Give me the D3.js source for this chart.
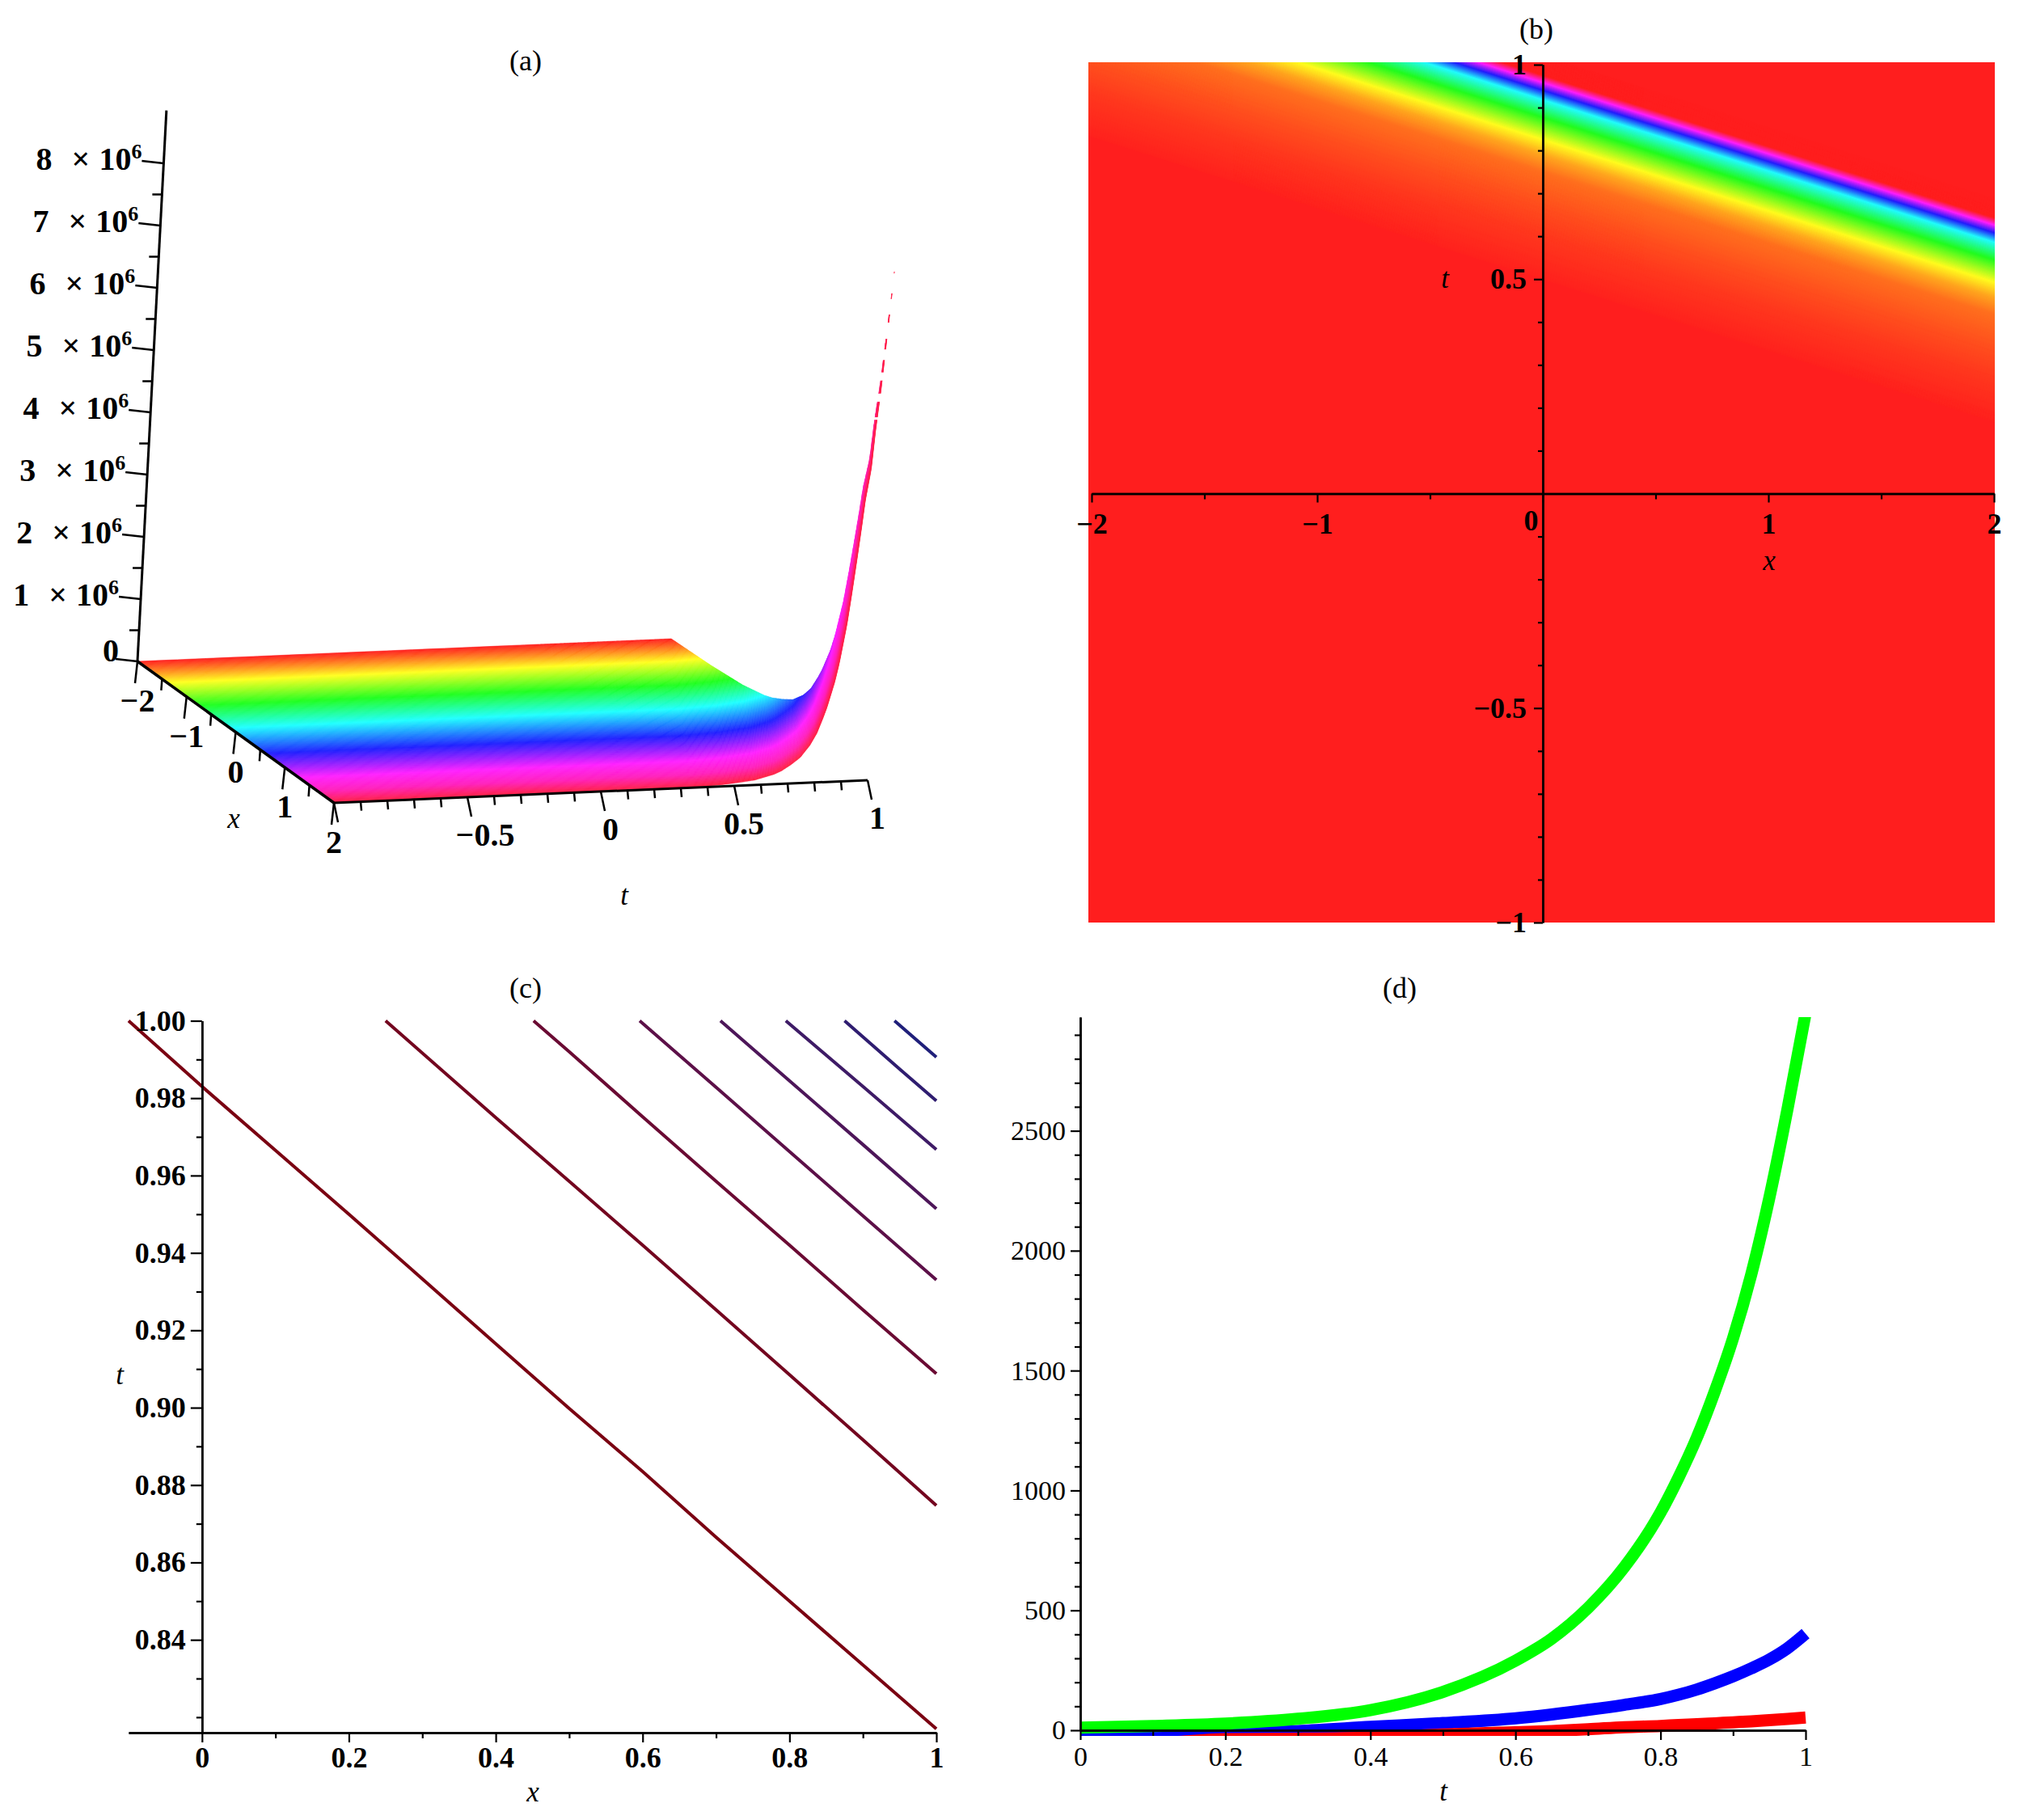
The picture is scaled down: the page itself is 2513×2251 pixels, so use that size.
<!DOCTYPE html>
<html>
<head>
<meta charset="utf-8">
<script src="https://cdn.jsdelivr.net/npm/d3@7"></script>
<style>
  body { margin: 0; background: #fff; }
  text { font-family: "Liberation Serif", serif; fill: #000; }
  .tick text { font-family: "Liberation Serif", serif; font-size: 36px; font-weight: bold; fill: #000; }
  .thin .tick text { font-size: 34px; font-weight: normal; }
  .tick line { stroke: #000; stroke-width: 2.2; }
  .domain { stroke: #000; stroke-width: 2.5; }
  .title { font-size: 36px; text-anchor: middle; }
  .varname { font-size: 35px; font-style: italic; text-anchor: middle; }
  .lab3d { font-size: 40px; font-weight: bold; text-anchor: middle; }
</style>
</head>
<body>
<div id="chart"></div>
<script>
// Panel (a) surface: height along the wave coordinate s = t + isoSlope * x
var isoSlope = 0.166;
var surfaceS = [-1.4, 0.668, 0.8, 0.908, 0.98, 1.007, 1.04, 1.074, 1.108, 1.132, 1.153, 1.165, 1.189, 1.202, 1.223, 1.235, 1.247, 1.259, 1.268, 1.284, 1.293, 1.306, 1.316, 1.327, 1.332];
var surfaceZ = [0, 0, 30000, 80000, 160000, 210000, 300000, 410000, 600000, 790000, 1040000, 1200000, 1600000, 1890000, 2500000, 2980000, 3500000, 4050000, 4500000, 5000000, 5640000, 6310000, 7010000, 7770000, 8170000];
var surfaceHueX = [-2, -1.4, -0.76, -0.12, 0.6, 1.28, 1.65, 2];
var surfaceHue = [0, 60, 120, 180, 240, 300, 318, 352];
// the thin top of the ridge breaks into dashes in the picture
var ridgeGapFrom = [8.14e6, 7.73e6, 7.35e6, 6.92e6, 6.55e6, 6.21e6, 5.83e6];
var ridgeGapTo = [7.82e6, 7.48e6, 7.09e6, 6.75e6, 6.42e6, 6.08e6, 5.79e6];
var zTicks = [1e6, 2e6, 3e6, 4e6, 5e6, 6e6, 7e6, 8e6];
var zMinorTicks = [0.5e6, 1.5e6, 2.5e6, 3.5e6, 4.5e6, 5.5e6, 6.5e6, 7.5e6];
var aXTicks = [-2, -1, 0, 1, 2];
var aXMinor = [-1.5, -0.5, 0.5, 1.5];
var aTTicks = [-1, -0.5, 0, 0.5, 1];
var aTMinor = [-0.9, -0.8, -0.7, -0.6, -0.4, -0.3, -0.2, -0.1, 0.1, 0.2, 0.3, 0.4, 0.6, 0.7, 0.8, 0.9];

// Panel (b) density: hue along the same wave coordinate
var heatS = [0.5, 0.6, 0.668, 0.75, 0.79, 0.825, 0.877, 0.918, 0.94, 0.958, 0.975, 1.4];
var heatHue = [1, 7, 13, 22, 37, 60, 120, 180, 240, 300, 360, 360];
var bXTicks = [-2, -1, 0, 1, 2];
var bXMinor = [-1.5, -0.5, 0.5, 1.5];
var bTTicks = [-1, -0.5, 0.5, 1];
var bTMinor = [-0.9, -0.8, -0.7, -0.6, -0.4, -0.3, -0.2, -0.1, 0.1, 0.2, 0.3, 0.4, 0.6, 0.7, 0.8, 0.9];

// Panel (c) contour lines
var contourX = [
  [-0.1, 0, 0.1, 0.2, 0.3, 0.4, 0.5, 0.6, 0.7, 0.8, 0.9, 1],
  [0.25, 0.4, 0.5, 0.6, 0.7, 0.8, 0.9, 1],
  [0.4515, 0.5, 0.6, 0.7, 0.8, 0.9, 1],
  [0.596, 0.7, 0.8, 0.9, 1],
  [0.706, 0.8, 0.9, 1],
  [0.795, 0.9, 1],
  [0.875, 0.95, 1],
  [0.943, 1]
];
var contourT = [
  [1, 0.983, 0.9665, 0.95, 0.9333, 0.9165, 0.8998, 0.8835, 0.8665, 0.85, 0.8335, 0.817],
  [1, 0.975, 0.9585, 0.942, 0.9253, 0.9085, 0.8917, 0.8747],
  [1, 0.992, 0.9752, 0.9585, 0.942, 0.9253, 0.9088],
  [1, 0.9828, 0.9662, 0.9496, 0.933],
  [1, 0.9845, 0.968, 0.9514],
  [1, 0.983, 0.9667],
  [1, 0.9875, 0.9793],
  [1, 0.9906]
];
var contourColors = ["#7a0012", "#73041f", "#6a0a33", "#5c1048", "#4d1659", "#3e1b66", "#2f1d70", "#1f1f7a"];
var cXTicks = [0, 0.2, 0.4, 0.6, 0.8, 1];
var cXMinor = [0.1, 0.3, 0.5, 0.7, 0.9];
var cTTicks = [0.84, 0.86, 0.88, 0.90, 0.92, 0.94, 0.96, 0.98, 1.00];
var cTMinor = [0.82, 0.83, 0.85, 0.87, 0.89, 0.91, 0.93, 0.95, 0.97, 0.99];

// Panel (d) curves
var curveT = [0, 0.1, 0.2, 0.3, 0.4, 0.5, 0.6, 0.65, 0.7, 0.75, 0.8, 0.825, 0.85, 0.875, 0.9, 0.925, 0.95, 0.975, 1];
var greenU = [11, 18, 28, 48, 84, 160, 290, 382, 510, 680, 908, 1055, 1220, 1415, 1635, 1900, 2220, 2590, 2990];
var blueU = [-5, -5, -8, -3, 14, 30, 50, 66, 85, 106, 130, 148, 170, 196, 225, 258, 295, 342, 403];
var redU = [-60, -55, -37, -35, -30, -18, -8, -3, 4, 13, 18, 22, 25, 29, 33, 37, 42, 47, 53];
var dXTicks = [0, 0.2, 0.4, 0.6, 0.8, 1];
var dXMinor = [0.1, 0.3, 0.5, 0.7, 0.9];
var dUTicks = [0, 500, 1000, 1500, 2000, 2500];
var dUMinor = d3.range(100, 3000, 100).filter(function(d) { return d % 500 !== 0; });

var svg = d3.select("#chart").append("svg")
  .attr("width", 2513)
  .attr("height", 2251);

function minusFormat(d) {
  return d3.format("")(d).replace("-", "\u2212");
}

function hueColor(h) {
  return d3.hsl(h, 1, 0.559).formatHex();
}

// ---------- panel (a) ----------
var groupA = svg.append("g");
groupA.append("text").attr("class", "title").attr("x", 650).attr("y", 87).text("(a)");

// fixed oblique view: each data axis contributes its own screen offset
var xToPx = d3.scaleLinear().domain([-2, 2]).range([0, 243]);
var xToPy = d3.scaleLinear().domain([-2, 2]).range([0, 175]);
var tToPx = d3.scaleLinear().domain([-1, 1]).range([0, 660]);
var tToPy = d3.scaleLinear().domain([-1, 1]).range([0, -28]);
var zToPx = d3.scaleLinear().domain([0, 8e6]).range([0, 32.4]);
var zToPy = d3.scaleLinear().domain([0, 8e6]).range([0, -616]);

function project(x, t, z) {
  return [170 + xToPx(x) + tToPx(t) + zToPx(z), 818 + xToPy(x) + tToPy(t) + zToPy(z)];
}

var surfaceHeight = d3.scaleLinear().domain(surfaceS).range(surfaceZ);
var surfaceColor = d3.scaleLinear().domain(surfaceHueX).range(surfaceHue);

var tSteps = d3.range(-1, 0.5, 0.05).concat(d3.range(0.5, 1.0001, 0.004));
var xSlices = d3.range(-2, 2, 0.02);
var ribbon = d3.line();

xSlices.forEach(function(x0) {
  var x1 = x0 + 0.02;
  var front = tSteps.map(function(t) { return project(x1, t, surfaceHeight(t + isoSlope * x1)); });
  var back = tSteps.slice().reverse().map(function(t) { return project(x0, t, surfaceHeight(t + isoSlope * x0)); });
  var c = hueColor(surfaceColor(x0));
  groupA.append("path")
    .attr("d", ribbon(front.concat(back)) + "Z")
    .attr("fill", c)
    .attr("stroke", c)
    .attr("stroke-width", 0.6);
});

ridgeGapFrom.forEach(function(z, i) {
  var top = project(2, 1, z)[1];
  var bottom = project(2, 1, ridgeGapTo[i])[1];
  groupA.append("rect")
    .attr("x", 1050).attr("y", top)
    .attr("width", 80).attr("height", bottom - top)
    .attr("fill", "#fff");
});

function line3d(p, q, w) {
  groupA.append("line")
    .attr("x1", p[0]).attr("y1", p[1])
    .attr("x2", q[0]).attr("y2", q[1])
    .attr("stroke", "#000")
    .attr("stroke-width", w);
}

// axes of the box
line3d(project(-2, -1, 0), project(-2, -1, 8.85e6), 3);
line3d(project(-2, -1, 0), project(2, -1, 0), 3.5);
line3d(project(2, -1, 0), project(2, 1, 0), 3);

[0].concat(zTicks).forEach(function(z) {
  var p = project(-2, -1, z);
  line3d(p, [p[0] - 27, p[1] - 3], 2.5);
});
zMinorTicks.forEach(function(z) {
  var p = project(-2, -1, z);
  line3d(p, [p[0] - 12, p[1]], 2.5);
});
aXTicks.forEach(function(x) {
  var p = project(x, -1, 0);
  line3d(p, [p[0] - 3, p[1] + 27], 2.5);
  groupA.append("text").attr("class", "lab3d")
    .attr("x", p[0]).attr("y", p[1] + 62).text(minusFormat(x));
});
aXMinor.forEach(function(x) {
  var p = project(x, -1, 0);
  line3d(p, [p[0] - 1, p[1] + 14], 2.5);
});
aTTicks.forEach(function(t) {
  var p = project(2, t, 0);
  line3d(p, [p[0] + 5, p[1] + 24], 2.5);
  if (t !== -1) {
    groupA.append("text").attr("class", "lab3d")
      .attr("x", p[0] + (t === -0.5 ? 22 : 12)).attr("y", p[1] + 60).text(minusFormat(t));
  }
});
aTMinor.forEach(function(t) {
  var p = project(2, t, 0);
  line3d(p, [p[0] + 1, p[1] + 11], 2.5);
});

// z tick labels
groupA.append("text").attr("class", "lab3d")
  .attr("x", 137).attr("y", 818).text("0");
zTicks.forEach(function(z) {
  var p = project(-2, -1, z);
  var lab = groupA.append("text").attr("class", "lab3d")
    .attr("x", p[0] - 27).attr("y", p[1] + 8)
    .style("text-anchor", "end");
  lab.append("tspan").text(z / 1e6);
  lab.append("tspan").attr("dx", 24).text("\u00d7");
  lab.append("tspan").attr("dx", 11).text("10");
  lab.append("tspan").attr("dy", -14).style("font-size", "26px").text("6");
});
groupA.append("text").attr("class", "varname").attr("x", 289).attr("y", 1024).text("x");
groupA.append("text").attr("class", "varname").attr("x", 772).attr("y", 1119).text("t");

// ---------- panel (b) ----------
var groupB = svg.append("g");
groupB.append("text").attr("class", "title").attr("x", 1900).attr("y", 48).text("(b)");

var bx = d3.scaleLinear().domain([-2, 2]).range([1350, 2466]);
var bt = d3.scaleLinear().domain([-1, 1]).range([1141, 80]);
var heatColor = d3.scaleLinear().domain(heatS).range(heatHue);

svg.append("clipPath").attr("id", "clipB").append("rect")
  .attr("x", 1346).attr("y", 77).attr("width", 1121).attr("height", 1064);

var heatLayer = groupB.append("g").attr("clip-path", "url(#clipB)");
heatLayer.append("rect")
  .attr("x", 1346).attr("y", 77).attr("width", 1121).attr("height", 1064)
  .attr("fill", hueColor(0));

d3.range(0.5, 1.02, 0.002).forEach(function(s) {
  var s1 = s + 0.002;
  var c = hueColor(heatColor(s));
  var pts = [
    [bx(-2.1), bt(s + isoSlope * 2.1)],
    [bx(2.1), bt(s - isoSlope * 2.1)],
    [bx(2.1), bt(s1 - isoSlope * 2.1)],
    [bx(-2.1), bt(s1 + isoSlope * 2.1)]
  ];
  heatLayer.append("path")
    .attr("d", d3.line()(pts) + "Z")
    .attr("fill", c)
    .attr("stroke", c)
    .attr("stroke-width", 0.8);
});

var bAxisX = groupB.append("g").attr("transform", "translate(0," + bt(0) + ")");
bAxisX.call(d3.axisBottom(bx).tickValues(bXMinor).tickSize(7).tickFormat("").tickSizeOuter(0));
var bAxisXMain = groupB.append("g").attr("transform", "translate(0," + bt(0) + ")");
bAxisXMain.call(d3.axisBottom(bx).tickValues(bXTicks).tickSize(11).tickPadding(13).tickFormat(minusFormat).tickSizeOuter(0));
bAxisXMain.selectAll(".tick text").filter(function(d) { return d === 0; }).attr("x", -15).attr("y", 20);

var bAxisT = groupB.append("g").attr("transform", "translate(" + bx(0) + ",0)");
bAxisT.call(d3.axisLeft(bt).tickValues(bTMinor).tickSize(6).tickFormat("").tickSizeOuter(0));
var bAxisTMain = groupB.append("g").attr("transform", "translate(" + bx(0) + ",0)");
bAxisTMain.call(d3.axisLeft(bt).tickValues(bTTicks).tickSize(11).tickPadding(9).tickFormat(minusFormat).tickSizeOuter(0));
groupB.append("text").attr("class", "varname").attr("x", 2188).attr("y", 705).text("x");
groupB.append("text").attr("class", "varname").attr("x", 1787).attr("y", 356).text("t");

// ---------- panel (c) ----------
var groupC = svg.append("g");
groupC.append("text").attr("class", "title").attr("x", 650).attr("y", 1234).text("(c)");

var cx = d3.scaleLinear().domain([-0.1, 1]).range([159, 1158]);
var ct = d3.scaleLinear().domain([0.816, 1]).range([2143, 1262.5]);
var contourLine = d3.line()
  .x(function(d) { return cx(d[0]); })
  .y(function(d) { return ct(d[1]); });

contourX.forEach(function(xs, i) {
  groupC.append("path")
    .attr("d", contourLine(d3.zip(xs, contourT[i])))
    .attr("fill", "none")
    .attr("stroke", contourColors[i])
    .attr("stroke-width", 4);
});

groupC.append("g").attr("transform", "translate(0," + ct.range()[0] + ")")
  .call(d3.axisBottom(cx).tickValues(cXMinor).tickSize(7).tickFormat("").tickSizeOuter(0));
groupC.append("g").attr("transform", "translate(0," + ct.range()[0] + ")")
  .call(d3.axisBottom(cx).tickValues(cXTicks).tickSize(12).tickPadding(5).tickFormat(d3.format("")).tickSizeOuter(0));

groupC.append("g").attr("transform", "translate(" + cx(0) + ",0)")
  .call(d3.axisLeft(ct).tickValues(cTMinor).tickSize(7).tickFormat("").tickSizeOuter(0));
groupC.append("g").attr("transform", "translate(" + cx(0) + ",0)")
  .call(d3.axisLeft(ct).tickValues(cTTicks).tickSize(14).tickPadding(6).tickFormat(d3.format(".2f")).tickSizeOuter(0));
groupC.append("text").attr("class", "varname").attr("x", 659).attr("y", 2228).text("x");
groupC.append("text").attr("class", "varname").attr("x", 148).attr("y", 1712).text("t");

// ---------- panel (d) ----------
var groupD = svg.append("g").attr("class", "thin");
groupD.append("text").attr("class", "title").attr("x", 1731).attr("y", 1234).text("(d)");

var dx = d3.scaleLinear().domain([0, 1]).range([1336, 2233]);
var dy = d3.scaleLinear().domain([0, 2974]).range([2140, 1258]);

svg.append("clipPath").attr("id", "clipD").append("rect")
  .attr("x", 1336).attr("y", 1258).attr("width", 906).attr("height", 889);

var curveLine = d3.line()
  .x(function(d) { return dx(d[0]); })
  .y(function(d) { return dy(d[1]); })
  .curve(d3.curveMonotoneX);

var curveLayer = groupD.append("g").attr("clip-path", "url(#clipD)");
[[blueU, "#0000ff"], [redU, "#ff0000"], [greenU, "#00ff00"]].forEach(function(c) {
  curveLayer.append("path")
    .attr("d", curveLine(d3.zip(curveT, c[0])))
    .attr("fill", "none")
    .attr("stroke", c[1])
    .attr("stroke-width", 15);
});

groupD.append("g").attr("transform", "translate(0," + dy(0) + ")")
  .call(d3.axisBottom(dx).tickValues(dXMinor).tickSize(7).tickFormat("").tickSizeOuter(0));
groupD.append("g").attr("transform", "translate(0," + dy(0) + ")")
  .call(d3.axisBottom(dx).tickValues(dXTicks).tickSize(12).tickPadding(8).tickFormat(d3.format("")).tickSizeOuter(0));
groupD.append("g").attr("transform", "translate(" + dx(0) + ",0)")
  .call(d3.axisLeft(dy).tickValues(dUMinor).tickSize(7).tickFormat("").tickSizeOuter(0));
groupD.append("g").attr("transform", "translate(" + dx(0) + ",0)")
  .call(d3.axisLeft(dy).tickValues(dUTicks).tickSize(12).tickPadding(6).tickFormat(d3.format("")).tickSizeOuter(0));
groupD.append("text").attr("class", "varname").attr("x", 1785).attr("y", 2227).text("t");
</script>
</body>
</html>
